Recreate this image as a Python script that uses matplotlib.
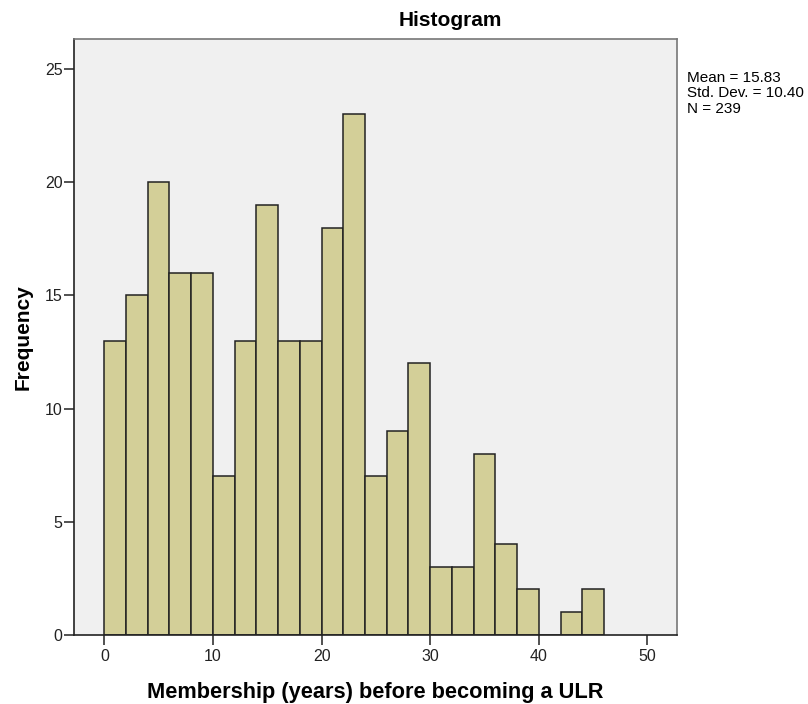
import matplotlib.pyplot as plt
import numpy as np

plt.rcParams['font.family'] = ['Liberation Sans', 'DejaVu Sans']

# bins of 2 years, 0..46
bin_edges = np.arange(0, 48, 2)
counts = [13, 15, 20, 16, 16, 7, 13, 19, 13, 13, 18, 23,
          7, 9, 12, 3, 3, 8, 4, 2, 0, 1, 2]
stats_text = 'Mean = 15.83\nStd. Dev. = 10.40\nN = 239'

fig = plt.figure(figsize=(8.08, 7.04), dpi=100)
ax = fig.add_axes([0.092, 0.0984, 0.746, 0.8457])
ax.set_facecolor('#f0f0f0')

ax.bar(bin_edges[:-1], counts, width=np.diff(bin_edges), align='edge',
       color='#d3cf98', edgecolor='#222222', linewidth=1.1, zorder=2)

ax.set_xlim(-2.76, 52.73)
ax.set_ylim(0, 26.32)
ax.set_xticks(np.arange(0, 51, 10))
ax.set_yticks(np.arange(0, 26, 5))
ax.tick_params(direction='out', length=7, width=1.1, labelsize=11.5,
               colors='#222222')
ax.tick_params(axis='x', pad=3.5)
ax.tick_params(axis='y', pad=1.5)

for side in ['left', 'bottom']:
    ax.spines[side].set_color('#222222')
for side in ['top', 'right']:
    ax.spines[side].set_color('#777777')
for s in ax.spines.values():
    s.set_linewidth(1.2)

fig.text(450 / 808, 1 - 20 / 704, 'Histogram', fontsize=15,
         fontweight='bold', ha='center', va='center')
ax.set_xlabel('Membership (years) before becoming a ULR', fontsize=15.7,
              fontweight='bold', labelpad=13)
ax.set_ylabel('Frequency', fontsize=15, fontweight='bold', labelpad=9)

fig.text(687 / 808, 1 - 71 / 704, stats_text, fontsize=11, va='top',
         ha='left', linespacing=1.12)

fig.savefig('out.png', dpi=100)
